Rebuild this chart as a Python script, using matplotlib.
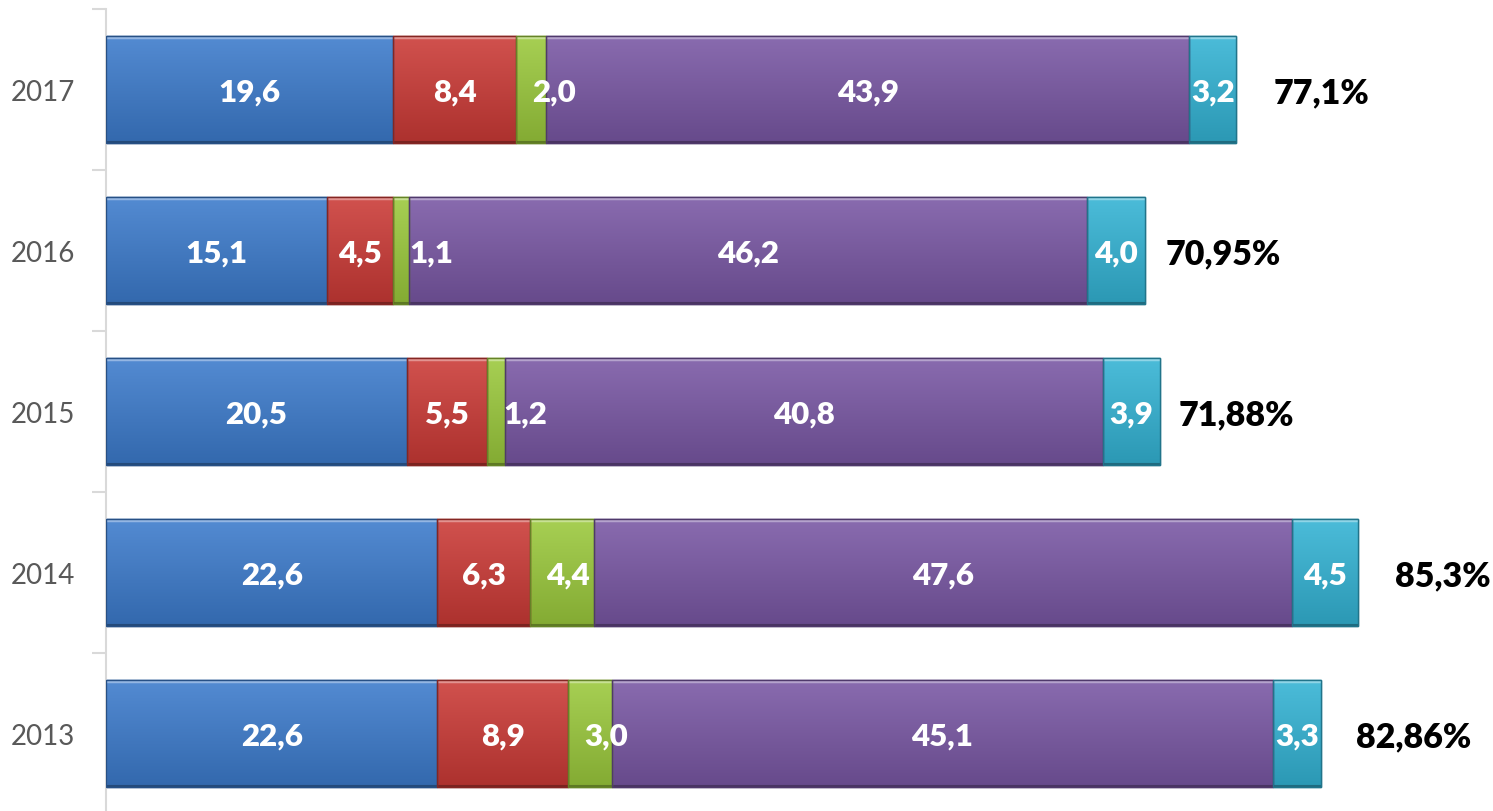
import numpy as np
import matplotlib
matplotlib.use("Agg")
import matplotlib.pyplot as plt
from matplotlib.colors import to_rgb

years = ["2013", "2014", "2015", "2016", "2017"]
series_blue = [22.6, 22.6, 20.5, 15.1, 19.6]
series_red = [8.9, 6.3, 5.5, 4.5, 8.4]
series_green = [3.0, 4.4, 1.2, 1.1, 2.0]
series_purple = [45.1, 47.6, 40.8, 46.2, 43.9]
series_cyan = [3.3, 4.5, 3.9, 4.0, 3.2]
total_labels = ["82,86%", "85,3%", "71,88%", "70,95%", "77,1%"]

series = [series_blue, series_red, series_green, series_purple, series_cyan]
colors = ["#3C7BCC", "#CB3A36", "#9BC93C", "#7957A4", "#33B3D4"]
total_pad_px = [35, 37, 19, 20, 37]

plt.rcParams['font.family'] = ['Lato', 'DejaVu Sans']

W, H = 1493, 812
fig = plt.figure(figsize=(W / 100, H / 100), dpi=100)
ax = fig.add_axes([106 / W, -3 / H, (W - 106) / W, 805 / H])

y = np.arange(len(years))
ax.set_ylim(-0.5, len(years) - 0.5)
ax.set_xlim(0, (W - 106) / 14.66)


def shade(c, f):
    r = np.array(to_rgb(c))
    if f >= 0:
        return tuple(r + (1 - r) * f)
    return tuple(r * (1 + f))


left = np.zeros(len(years))
for si, (vals, col) in enumerate(zip(series, colors)):
    bars = ax.barh(y, vals, left=left, height=0.67, color=col,
                   edgecolor=shade(col, -0.35), linewidth=1.0, zorder=2)
    for b in bars:
        x0, y0, w, h = b.get_x(), b.get_y(), b.get_width(), b.get_height()
        n = 64
        t = np.linspace(0, 1, n)[:, None]
        top = np.array(shade(col, 0.12))
        bot = np.array(shade(col, -0.15))
        grad = (bot[None, :] * (1 - t) + top[None, :] * t)
        grad = grad[:, None, :]
        im = ax.imshow(grad, extent=[x0, x0 + w, y0, y0 + h], origin='lower',
                       aspect='auto', zorder=2.5, interpolation='bilinear')
        im.set_clip_path(b)
        ax.plot([x0, x0 + w], [y0 + h - 0.012, y0 + h - 0.012],
                color=shade(col, 0.45), lw=2.5, zorder=3, solid_capstyle='butt')
        ax.plot([x0, x0 + w], [y0 + 0.01, y0 + 0.01],
                color=shade(col, -0.4), lw=1.5, zorder=3, solid_capstyle='butt')
        ax.add_patch(plt.Rectangle((x0, y0), w, h, fill=False,
                                   edgecolor=shade(col, -0.35), lw=1.0, zorder=3.2))
    for b, v in zip(bars, vals):
        lab = f"{v:.1f}".replace(".", ",")
        if si == 2:
            ax.annotate(lab, (b.get_x(), b.get_y() + b.get_height() / 2),
                        xytext=(16, -2), textcoords='offset pixels',
                        ha='left', va='center', color='white',
                        fontsize=22.5, fontweight='heavy', zorder=5)
        else:
            ax.annotate(lab, (b.get_x() + b.get_width() / 2, b.get_y() + b.get_height() / 2),
                        xytext=(0, -2), textcoords='offset pixels',
                        ha='center', va='center', color='white',
                        fontsize=22.5, fontweight='heavy', zorder=5)
    left = left + np.array(vals)

for yi, tot, lab, pad in zip(y, left, total_labels, total_pad_px):
    ax.annotate(lab, (tot, yi), xytext=(pad, -3), textcoords='offset pixels',
                ha='left', va='center', color='black', fontsize=24.5,
                fontweight='heavy', zorder=5)

ax.set_yticks(y)
ax.set_yticklabels(years, fontsize=20, color='#595959')
ax.tick_params(axis='y', length=0, pad=22)
ax.set_yticks(np.arange(-0.5, len(years)), minor=True)
ax.tick_params(axis='y', which='minor', length=10, width=1.5, color='#D9D9D9')
ax.set_xticks([])
for s in ['top', 'right', 'bottom']:
    ax.spines[s].set_visible(False)
ax.spines['left'].set_color('#D9D9D9')
ax.spines['left'].set_linewidth(1.5)

fig.savefig("out.png", dpi=100)
